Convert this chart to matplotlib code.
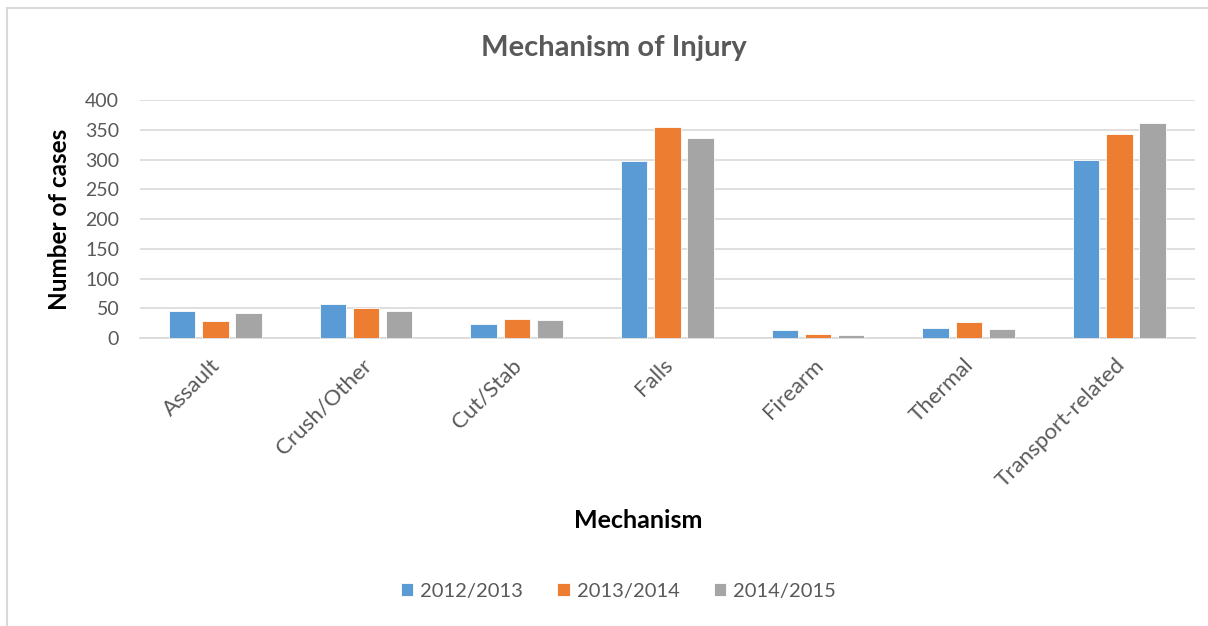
import matplotlib.pyplot as plt
import matplotlib.transforms as mtransforms
import numpy as np
from matplotlib.patches import Rectangle

mechanisms = ['Assault', 'Crush/Other', 'Cut/Stab', 'Falls', 'Firearm', 'Thermal', 'Transport-related']
years = ['2012/2013', '2013/2014', '2014/2015']
cases_2012 = [45, 58, 24, 298, 14, 17, 300]
cases_2013 = [29, 51, 32, 355, 7, 27, 343]
cases_2014 = [42, 45, 30, 337, 5, 15, 361]
colors = ['#5b9bd5', '#ed7d31', '#a5a5a5']

plt.rcParams['font.family'] = ['Lato', 'DejaVu Sans']
grey_text = '#595959'

fig = plt.figure(figsize=(12.08, 6.26), dpi=100)
ax = fig.add_axes([0.1159, 0.46, 0.989 - 0.1159, 0.38])

# outer chart border (only top/left visible in the reference)
fig.patches.append(Rectangle((7 / 1208, -0.1), 1.2, 1 - 8 / 626 + 0.1,
                             transform=fig.transFigure, fill=False,
                             edgecolor='#d9d9d9', linewidth=1.5))

x = np.arange(len(mechanisms))
step = 0.22
width = 0.175
for i, (vals, label) in enumerate(zip([cases_2012, cases_2013, cases_2014], years)):
    ax.bar(x + (i - 1) * step, vals, width, color=colors[i], label=label,
           edgecolor='white', linewidth=0.6, zorder=3)

ax.set_xlim(-0.5, len(mechanisms) - 0.5)
ax.set_ylim(0, 400)
ax.set_yticks(range(0, 401, 50))
ax.grid(axis='y', color='#d9d9d9', linewidth=1.2, zorder=0)
for s in ['top', 'right', 'left']:
    ax.spines[s].set_visible(False)
ax.spines['bottom'].set_color('#d9d9d9')
ax.spines['bottom'].set_linewidth(1.2)
ax.tick_params(axis='both', length=0, labelcolor=grey_text)
ax.tick_params(axis='y', pad=15, labelsize=14)
ax.tick_params(axis='x', labelsize=16)

ax.set_xticks(x)
ax.set_xticklabels(mechanisms, rotation=45, ha='right', va='top', rotation_mode='anchor')
offset = mtransforms.ScaledTranslation(-5 / 100, -12 / 100, fig.dpi_scale_trans)
for lbl in ax.get_xticklabels():
    lbl.set_transform(lbl.get_transform() + offset)

fig.text(614 / 1208, 1 - 48 / 626, 'Mechanism of Injury', fontsize=21, fontweight='bold',
         color=grey_text, ha='center', va='center')
ax.set_ylabel('Number of cases', fontsize=17.5, fontweight='bold', color='black', labelpad=10)
fig.text(638 / 1208, 1 - 520 / 626, 'Mechanism', fontsize=18, fontweight='bold',
         ha='center', va='center')

fig.legend(loc='center', bbox_to_anchor=(0.512, 1 - 591 / 626), ncol=3, frameon=False,
           fontsize=14.5, labelcolor=grey_text, handlelength=0.6, handleheight=0.6,
           handletextpad=0.35, columnspacing=1.7)

fig.savefig('out.png', dpi=100)
